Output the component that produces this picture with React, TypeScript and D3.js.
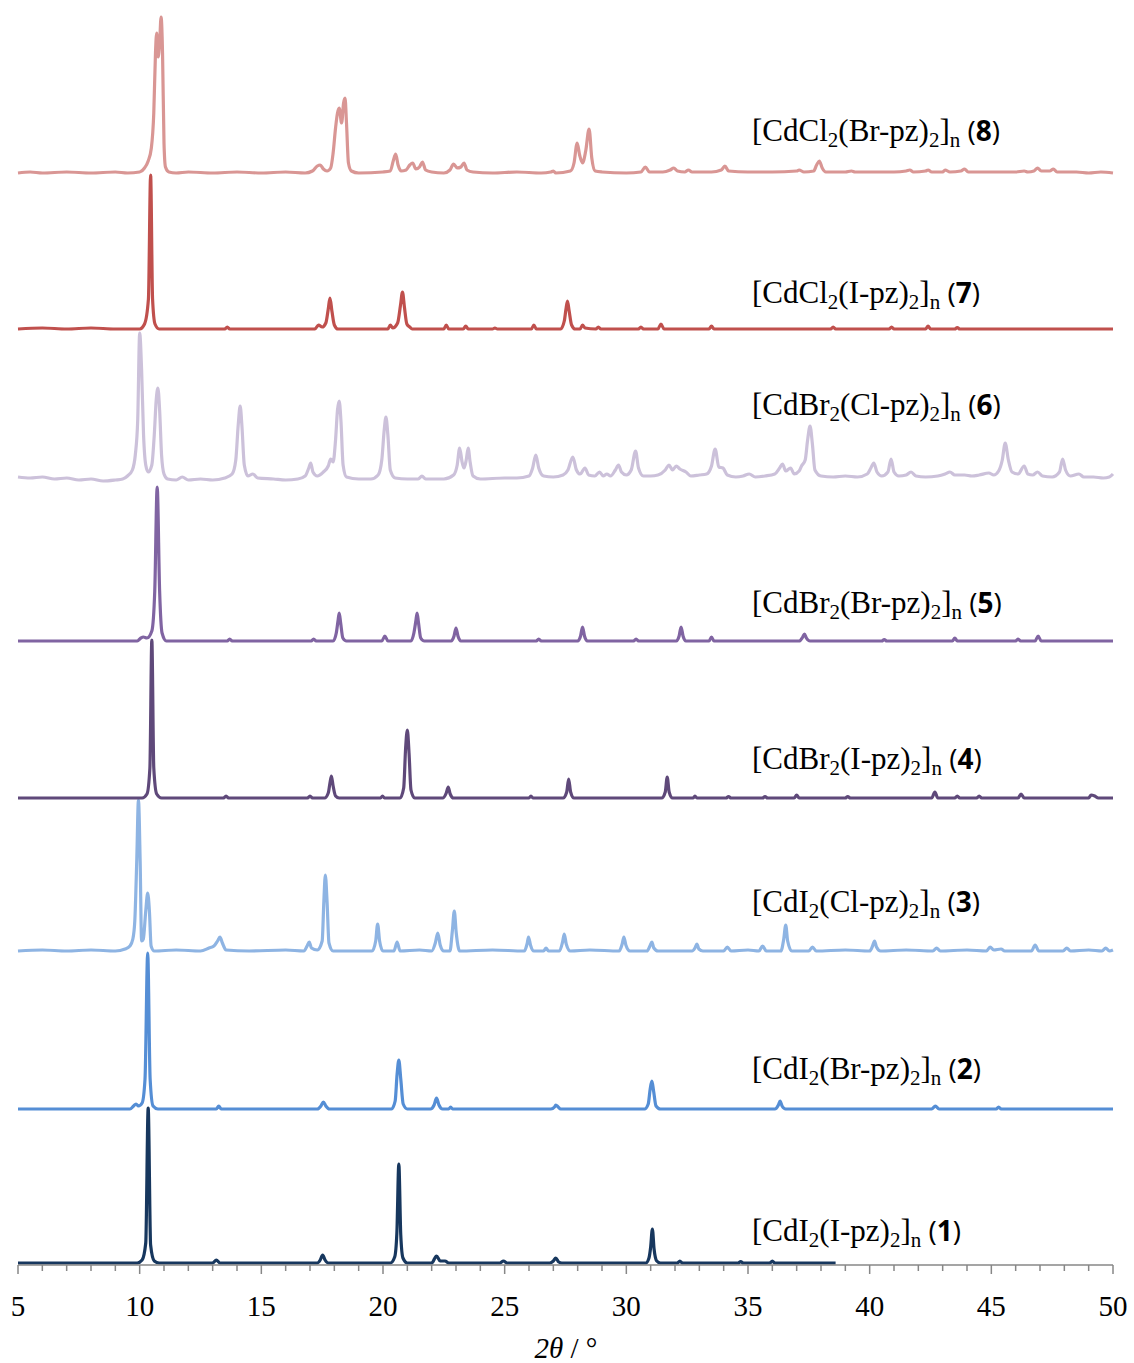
import * as d3 from "d3";

type Pt = [number, number];

// compounds from bottom (1) to top (8)
const compoundNo = ["1", "2", "3", "4", "5", "6", "7", "8"];
const halides = ["I", "I", "I", "Br", "Br", "Br", "Cl", "Cl"];
const ligands = ["I", "Br", "Cl", "I", "Br", "Cl", "I", "Br"];
const xTicks = [5, 10, 15, 20, 25, 30, 35, 40, 45, 50];

// intensities (arbitrary units) vs 2theta
const s1: Pt[] = [
  [5, 0], [9.9, 0], [10.1, 3], [10.25, 20], [10.35, 155], [10.45, 18], [10.6, 2], [10.8, 0],
  [13.0, 0], [13.15, 3], [13.3, 0],
  [17.3, 0], [17.42, 3], [17.52, 8], [17.62, 3], [17.75, 0],
  [20.3, 0], [20.48, 6], [20.57, 30], [20.65, 99], [20.73, 28], [20.82, 5], [21.0, 0],
  [22.0, 0], [22.2, 7], [22.35, 2], [22.55, 2], [22.7, 0],
  [24.8, 0], [24.95, 2], [25.1, 0],
  [26.85, 0], [27.0, 2], [27.1, 5], [27.22, 1], [27.35, 0],
  [30.8, 0], [30.93, 5], [31.0, 16], [31.07, 34], [31.14, 14], [31.25, 2], [31.4, 0],
  [32.1, 0], [32.2, 2], [32.3, 0],
  [34.6, 0], [34.7, 1.5], [34.8, 0],
  [35.9, 0], [36.0, 2], [36.1, 0],
  [38.6, 0],
];

const s2: Pt[] = [
  [5, 0], [9.6, 0], [9.75, 3], [9.85, 5], [9.95, 3], [10.1, 6], [10.22, 30], [10.33, 156], [10.43, 30], [10.55, 3], [10.75, 0],
  [13.15, 0], [13.25, 3], [13.35, 0],
  [17.3, 0], [17.45, 3], [17.55, 7], [17.65, 3], [17.8, 0],
  [20.35, 0], [20.5, 8], [20.58, 35], [20.65, 49], [20.73, 30], [20.83, 5], [21.0, 0],
  [21.95, 0], [22.1, 4], [22.2, 11], [22.3, 4], [22.45, 0],
  [22.7, 0], [22.78, 2], [22.86, 0],
  [26.9, 0], [27.05, 2], [27.1, 4], [27.2, 2], [27.3, 0],
  [30.75, 0], [30.9, 5], [30.98, 20], [31.05, 28], [31.12, 18], [31.22, 3], [31.4, 0],
  [36.1, 0], [36.25, 4], [36.32, 8], [36.4, 3], [36.55, 0],
  [42.55, 0], [42.7, 3], [42.85, 0],
  [45.2, 0], [45.3, 2], [45.4, 0],
  [50, 0],
];

const s3: Pt[] = [
  [5, 0], [6, 1], [7, 0], [8, 1], [9, 0], [9.4, 2], [9.6, 5], [9.72, 12], [9.8, 30], [9.88, 90], [9.95, 151],
  [10.02, 90], [10.08, 10], [10.15, 12], [10.25, 40], [10.33, 58], [10.4, 40], [10.47, 5], [10.6, 0],
  [11.5, 1], [12.5, 0], [12.85, 3], [13.05, 5], [13.2, 10], [13.3, 14], [13.4, 8], [13.55, 1], [14.5, 0], [16, 1],
  [16.75, 0], [16.88, 5], [16.97, 9], [17.06, 3], [17.3, 1], [17.5, 10], [17.57, 50], [17.63, 76], [17.7, 50], [17.78, 8], [17.95, 0],
  [19.55, 0], [19.7, 10], [19.78, 27], [19.86, 10], [20.0, 0],
  [20.45, 0], [20.58, 9], [20.7, 0],
  [21.5, 1], [22.0, 0], [22.15, 8], [22.25, 18], [22.35, 6], [22.5, 0],
  [22.75, 0], [22.85, 20], [22.93, 40], [23.01, 18], [23.15, 0],
  [24.5, 1], [25.8, 0], [25.92, 7], [25.98, 14], [26.06, 6], [26.2, 0],
  [26.6, 0], [26.7, 3], [26.8, 0],
  [27.25, 0], [27.38, 9], [27.45, 17], [27.53, 7], [27.7, 0],
  [28.5, 1], [29.7, 0], [29.83, 7], [29.9, 14], [29.98, 6], [30.15, 0],
  [30.85, 0], [30.97, 5], [31.05, 9], [31.13, 3], [31.3, 0],
  [32.7, 0], [32.82, 3], [32.9, 7], [32.98, 2], [33.15, 0],
  [34.0, 0], [34.15, 4], [34.3, 0], [35.0, 1],
  [35.45, 0], [35.6, 5], [35.75, 0],
  [36.35, 0], [36.47, 12], [36.55, 26], [36.63, 10], [36.8, 0],
  [37.5, 0], [37.65, 4], [37.8, 0], [39, 1],
  [40.0, 0], [40.12, 5], [40.2, 10], [40.28, 4], [40.45, 0],
  [41.5, 1], [42.6, 0], [42.75, 3], [42.9, 0],
  [44.0, 1], [44.8, 0], [44.95, 4], [45.1, 1], [45.4, 2], [45.55, 0],
  [46.65, 0], [46.8, 6], [46.95, 0],
  [47.95, 0], [48.1, 3], [48.25, 0], [49.0, 1],
  [49.55, 0], [49.7, 3], [49.85, 0], [50, 1],
];

const s4: Pt[] = [
  [5, 0], [10.1, 0], [10.3, 4], [10.42, 30], [10.5, 158], [10.58, 30], [10.7, 4], [10.9, 0],
  [13.45, 0], [13.55, 2], [13.65, 0],
  [16.9, 0], [17.0, 2], [17.1, 0],
  [17.6, 0], [17.75, 5], [17.82, 15], [17.88, 22], [17.95, 12], [18.05, 2], [18.2, 0],
  [19.9, 0], [19.98, 2], [20.06, 0],
  [20.7, 0], [20.85, 10], [20.93, 50], [21.0, 68], [21.07, 45], [21.15, 8], [21.3, 0],
  [22.45, 0], [22.6, 5], [22.68, 11], [22.76, 4], [22.9, 0],
  [26.0, 0], [26.08, 2], [26.16, 0],
  [27.4, 0], [27.55, 6], [27.63, 19], [27.71, 6], [27.85, 0],
  [31.45, 0], [31.6, 6], [31.68, 21], [31.76, 6], [31.9, 0],
  [32.75, 0], [32.82, 2], [32.9, 0],
  [34.1, 0], [34.2, 1.5], [34.3, 0],
  [35.6, 0], [35.7, 1.5], [35.8, 0],
  [36.9, 0], [37.0, 3], [37.1, 0],
  [39.0, 0], [39.1, 1.5], [39.2, 0],
  [42.55, 0], [42.68, 6], [42.8, 0],
  [43.5, 0], [43.6, 2], [43.7, 0],
  [44.4, 0], [44.5, 2], [44.6, 0],
  [46.1, 0], [46.22, 4], [46.35, 0],
  [49.0, 0], [49.1, 3], [49.25, 2], [49.4, 0],
  [50, 0],
];

const s5: Pt[] = [
  [5, 0], [9.9, 0], [10.05, 3], [10.15, 4], [10.3, 3], [10.5, 10], [10.62, 50], [10.72, 154], [10.82, 50], [10.92, 8], [11.1, 0],
  [13.6, 0], [13.7, 2], [13.8, 0],
  [17.05, 0], [17.15, 2], [17.25, 0],
  [17.95, 0], [18.08, 8], [18.15, 20], [18.2, 28], [18.26, 18], [18.35, 3], [18.5, 0],
  [19.95, 0], [20.08, 5], [20.2, 0],
  [21.15, 0], [21.27, 8], [21.35, 20], [21.4, 28], [21.46, 18], [21.55, 3], [21.7, 0],
  [22.8, 0], [22.92, 5], [23.0, 13], [23.08, 5], [23.2, 0],
  [26.3, 0], [26.4, 2], [26.5, 0],
  [28.0, 0], [28.12, 5], [28.2, 14], [28.28, 5], [28.4, 0],
  [30.3, 0], [30.4, 2], [30.5, 0],
  [32.05, 0], [32.17, 5], [32.25, 14], [32.33, 5], [32.45, 0],
  [33.4, 0], [33.5, 4], [33.6, 0],
  [37.1, 0], [37.25, 4], [37.32, 7], [37.4, 3], [37.55, 0],
  [40.5, 0], [40.6, 1.5], [40.7, 0],
  [43.4, 0], [43.5, 3], [43.6, 0],
  [46.0, 0], [46.1, 2], [46.2, 0],
  [46.8, 0], [46.92, 5], [47.05, 0],
  [50, 0],
];

const s6: Pt[] = [
  [5, 3], [5.5, 2], [6, 3], [6.5, 1], [7, 2], [7.5, 0], [8, 1], [8.5, -1], [9, 0], [9.3, 1], [9.5, 4], [9.7, 10],
  [9.82, 25], [9.92, 60], [10.0, 147], [10.08, 110], [10.16, 45], [10.25, 15], [10.35, 8], [10.5, 15], [10.6, 45],
  [10.68, 80], [10.75, 92], [10.82, 70], [10.9, 25], [11.0, 6], [11.15, 1], [11.5, 0], [11.75, 3], [12, 0], [12.5, 1],
  [13, 0], [13.5, 2], [13.8, 6], [13.95, 20], [14.05, 55], [14.13, 74], [14.2, 55], [14.3, 15], [14.45, 4], [14.65, 6],
  [14.85, 2], [15.5, 1], [16, 0], [16.5, 1], [16.8, 4], [16.95, 12], [17.03, 17], [17.12, 8], [17.3, 4], [17.55, 8],
  [17.75, 14], [17.85, 21], [17.95, 18], [18.05, 40], [18.13, 70], [18.2, 79], [18.27, 60], [18.36, 15], [18.5, 3],
  [19, 1], [19.5, 1], [19.8, 5], [19.95, 20], [20.05, 50], [20.12, 63], [20.2, 45], [20.3, 10], [20.5, 2], [21, 1],
  [21.45, 1], [21.6, 4], [21.75, 1], [22.5, 1], [22.9, 5], [23.05, 15], [23.15, 32], [23.25, 18], [23.33, 12],
  [23.42, 20], [23.5, 32], [23.58, 18], [23.7, 4], [24, 1], [25, 2], [25.5, 2], [26, 4], [26.15, 12], [26.28, 25],
  [26.4, 12], [26.6, 4], [27, 3], [27.4, 5], [27.6, 10], [27.8, 23], [27.95, 10], [28.1, 6], [28.3, 12], [28.45, 5],
  [28.7, 4], [28.9, 8], [29.05, 4], [29.2, 6], [29.35, 4], [29.55, 10], [29.68, 15], [29.8, 8], [30.0, 5], [30.2, 10],
  [30.38, 29], [30.5, 12], [30.7, 4], [31, 4], [31.3, 5], [31.6, 10], [31.75, 15], [31.9, 10], [32.05, 14], [32.2, 11],
  [32.45, 8], [32.65, 4], [33, 5], [33.3, 6], [33.5, 14], [33.65, 31], [33.8, 13], [33.97, 12], [34.15, 5], [34.5, 3],
  [34.8, 4], [35.05, 6], [35.3, 3], [35.7, 4], [36.1, 6], [36.3, 12], [36.42, 16], [36.55, 9], [36.75, 12], [36.9, 6],
  [37.1, 9], [37.2, 14], [37.35, 20], [37.45, 40], [37.55, 54], [37.65, 35], [37.75, 10], [38, 4], [38.5, 3], [39, 4],
  [39.5, 3], [39.9, 6], [40.05, 12], [40.17, 17], [40.3, 8], [40.5, 4], [40.75, 8], [40.88, 21], [41.0, 8], [41.2, 4],
  [41.5, 5], [41.7, 8], [41.9, 4], [42.3, 3], [42.8, 4], [43.1, 6], [43.3, 8], [43.5, 5], [43.9, 5], [44.2, 4], [44.5, 5],
  [44.9, 7], [45.1, 5], [45.3, 9], [45.45, 20], [45.57, 37], [45.7, 20], [45.85, 8], [46.1, 6], [46.35, 14], [46.5, 6],
  [46.7, 5], [46.9, 8], [47.1, 4], [47.5, 3], [47.8, 8], [47.93, 21], [48.05, 10], [48.25, 4], [48.6, 6], [48.8, 3],
  [49.2, 3], [49.6, 2], [49.85, 3], [50, 6],
];

const s7: Pt[] = [
  [5, 0], [6, 1], [7, 0], [8, 1], [9, 0], [10.0, 0], [10.2, 5], [10.36, 30], [10.45, 154], [10.53, 30], [10.63, 5], [10.8, 0],
  [13.5, 0], [13.6, 2], [13.7, 0],
  [17.2, 0], [17.35, 4], [17.5, 2], [17.65, 6], [17.75, 20], [17.82, 31], [17.9, 18], [18.0, 4], [18.15, 0],
  [20.2, 0], [20.3, 4], [20.4, 1], [20.6, 6], [20.72, 24], [20.8, 37], [20.88, 22], [20.98, 5], [21.1, 2], [21.2, 0],
  [22.5, 0], [22.6, 4], [22.7, 0],
  [23.3, 0], [23.4, 3], [23.5, 0],
  [24.5, 0], [24.6, 1], [24.7, 0],
  [26.1, 0], [26.2, 4], [26.3, 0],
  [27.3, 0], [27.45, 8], [27.52, 20], [27.58, 28], [27.65, 18], [27.75, 4], [27.9, 0],
  [28.1, 0], [28.2, 4], [28.3, 1], [28.75, 0], [28.85, 2], [28.95, 0],
  [30.5, 0], [30.6, 2], [30.7, 0],
  [31.3, 0], [31.42, 5], [31.55, 0],
  [33.4, 0], [33.5, 3], [33.6, 0],
  [38.4, 0], [38.5, 2], [38.6, 0],
  [40.8, 0], [40.9, 2], [41.0, 0],
  [42.3, 0], [42.4, 3], [42.5, 0],
  [43.5, 0], [43.6, 1.5], [43.7, 0],
  [50, 0],
];

const s8: Pt[] = [
  [5, 0], [5.5, 1], [6, 0], [7, 1], [8, 0], [9, 1], [9.5, 0], [10.0, 1], [10.2, 5], [10.35, 12], [10.48, 25], [10.58, 60],
  [10.65, 120], [10.7, 140], [10.76, 116], [10.82, 130], [10.88, 156], [10.94, 120], [11.0, 30], [11.06, 6], [11.2, 1],
  [11.5, 0], [12, 1], [13, 0], [14, 1], [15, 0], [16, 1], [16.8, 0], [17.1, 2], [17.3, 7], [17.42, 8], [17.55, 4],
  [17.7, 2], [17.85, 5], [17.95, 20], [18.05, 45], [18.13, 60], [18.2, 65], [18.3, 50], [18.38, 70], [18.44, 75],
  [18.5, 50], [18.58, 10], [18.7, 2], [19, 0], [20, 1], [20.3, 2], [20.42, 12], [20.52, 19], [20.62, 8], [20.75, 2],
  [20.95, 3], [21.1, 8], [21.22, 10], [21.35, 4], [21.5, 6], [21.62, 11], [21.75, 3], [22, 1], [22.5, 0], [22.75, 3],
  [22.9, 9], [23.05, 5], [23.2, 6], [23.33, 10], [23.45, 3], [23.7, 1], [24.5, 0], [25.5, 1], [26.5, 0], [26.9, 1],
  [27.0, 2], [27.1, 0], [27.7, 2], [27.85, 10], [27.98, 30], [28.08, 18], [28.2, 10], [28.33, 22], [28.47, 44],
  [28.58, 15], [28.72, 2], [29, 1], [30, 0], [30.6, 1], [30.78, 6], [30.95, 1], [31.5, 1], [31.8, 3], [31.95, 5],
  [32.1, 2], [32.4, 1], [32.55, 3], [32.7, 1], [33.5, 1], [33.9, 3], [34.05, 7], [34.2, 2], [35, 1], [36, 1], [37, 2],
  [37.1, 3], [37.3, 1], [37.7, 2], [37.82, 8], [37.93, 12], [38.05, 5], [38.2, 1], [39, 1], [39.25, 2], [39.4, 1],
  [40, 1], [41, 1], [41.5, 2], [41.65, 3], [41.8, 1], [42.3, 2], [42.4, 3], [42.55, 1], [43, 1], [43.1, 3], [43.3, 1],
  [43.75, 2], [43.9, 4], [44.05, 1], [45, 1], [46, 1], [46.35, 2], [46.5, 1], [46.75, 2], [46.9, 5], [47.05, 2],
  [47.4, 2], [47.55, 4], [47.7, 1], [48.5, 1], [49, 0], [49.5, 1], [50, 0],
];

const patterns = [s1, s2, s3, s4, s5, s6, s7, s8];

// layout / style
const W = 1134;
const H = 1363;
const colors = ["#17375e", "#558ed5", "#8eb4e3", "#5f497a", "#8064a2", "#ccc1da", "#c0504d", "#d99694"];
const offsets = [0, 154, 312, 465, 622, 783, 934, 1090];
const labelLift = [22, 30, 39, 29, 28, 65, 26, 32];

const serif = "'Liberation Serif', 'Times New Roman', serif";
const sans = "'Open Sans', 'Noto Sans', sans-serif";

export default function App() {
  const x = d3.scaleLinear().domain([5, 50]).range([18, 1113]);
  const y = d3.scaleLinear().domain([0, 1263]).range([1263, 0]);
  const axisY = 1265;

  return (
    <svg
      width={W}
      height={H}
      style={{ position: "absolute", left: 0, top: 0, background: "#fff" }}
    >
      {patterns.map((pts, i) => {
        const line = d3
          .line<Pt>()
          .x((d) => x(d[0]))
          .y((d) => y(offsets[i] + d[1]))
          .curve(d3.curveMonotoneX);
        return (
          <path
            key={i}
            d={line(pts) || ""}
            fill="none"
            stroke={colors[i]}
            strokeWidth={3.2}
            strokeLinejoin="round"
          />
        );
      })}

      {/* x axis */}
      <line x1={x(5)} x2={x(50)} y1={axisY} y2={axisY} stroke="#878787" strokeWidth={1.5} />
      {d3.range(5, 51).map((t) => (
        <line
          key={t}
          x1={x(t)}
          x2={x(t)}
          y1={axisY}
          y2={axisY + (t % 5 === 0 ? 9 : 6)}
          stroke="#878787"
          strokeWidth={1.5}
        />
      ))}
      {xTicks.map((t) => (
        <text
          key={t}
          x={x(t)}
          y={1316}
          textAnchor="middle"
          fontFamily={serif}
          fontSize={29}
          fill="#000"
        >
          {t}
        </text>
      ))}
      <text x={566} y={1358} textAnchor="middle" fontFamily={serif} fontSize={29} fill="#000">
        <tspan fontStyle="italic">2θ</tspan>
        <tspan> / °</tspan>
      </text>

      {/* compound labels */}
      {compoundNo.map((n, i) => (
        <text
          key={n}
          x={752}
          y={y(offsets[i] + labelLift[i])}
          fontFamily={serif}
          fontSize={31}
          fill="#000"
        >
          <tspan>[Cd{halides[i]}</tspan>
          <tspan fontSize={21} dy={6}>2</tspan>
          <tspan dy={-6}>({ligands[i]}-pz)</tspan>
          <tspan fontSize={21} dy={6}>2</tspan>
          <tspan dy={-6}>]</tspan>
          <tspan fontSize={21} dy={6}>n</tspan>
          <tspan dy={-6} fontFamily={sans} fontSize={28}> (</tspan>
          <tspan fontFamily={sans} fontSize={28} fontWeight="bold">{n}</tspan>
          <tspan fontFamily={sans} fontSize={28}>)</tspan>
        </text>
      ))}
    </svg>
  );
}
